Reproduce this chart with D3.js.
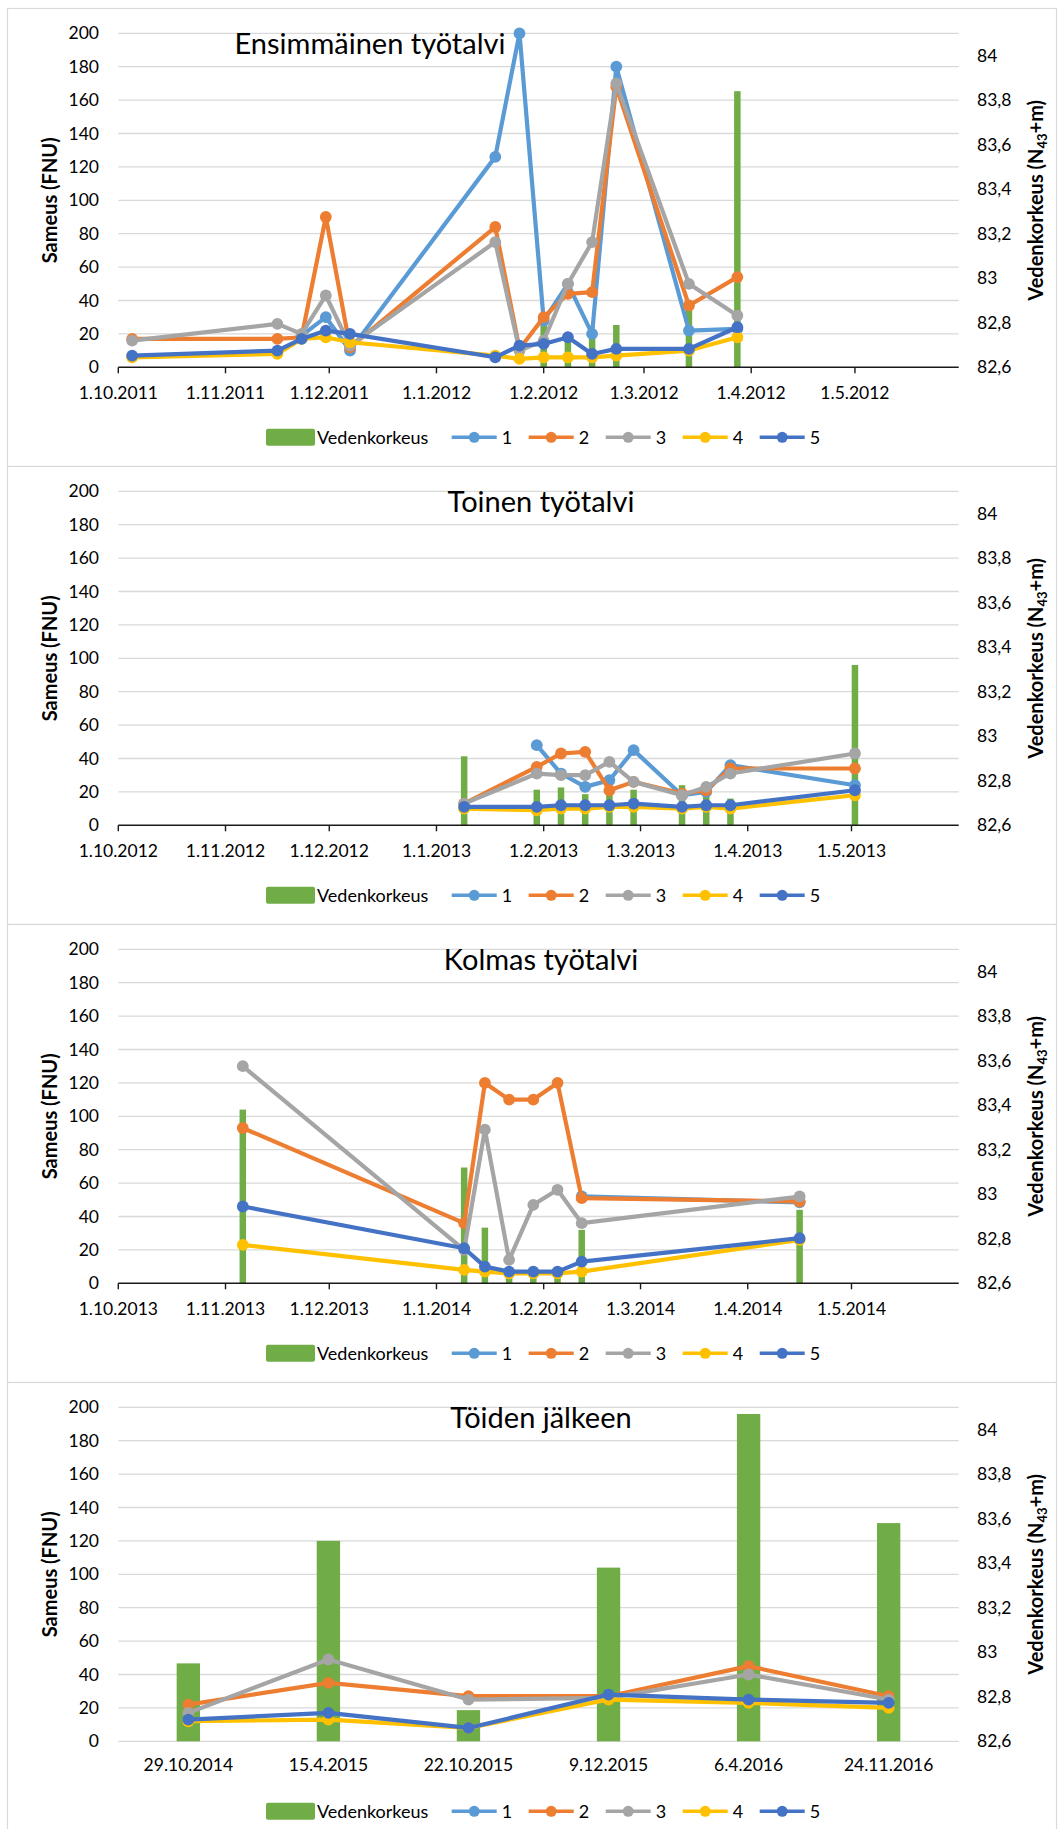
<!DOCTYPE html>
<html>
<head>
<meta charset="utf-8">
<script src="https://cdn.jsdelivr.net/npm/d3@7"></script>
<style>
  html, body { margin: 0; padding: 0; background: #ffffff; }
  svg { display: block; font-family: Lato, "Noto Sans", sans-serif; }
</style>
</head>
<body>
<svg id="chart" width="1060" height="1829"></svg>
<script>
// ---- shared series definitions ----
const seriesNames = ["1", "2", "3", "4", "5"];
const seriesColors = ["#5B9BD5", "#ED7D31", "#A5A5A5", "#FFC000", "#4472C4"];
const levelName = "Vedenkorkeus";
const levelColor = "#70AD47";
const sameusTicks = [0, 20, 40, 60, 80, 100, 120, 140, 160, 180, 200];
const levelTicks = [82.6, 82.8, 83.0, 83.2, 83.4, 83.6, 83.8, 84.0];

// ---- Ensimmäinen työtalvi (2011–2012) ----
const winter1Title = "Ensimmäinen työtalvi";
const winter1AxisTicks = ["2011-10-01", "2011-11-01", "2011-12-01", "2012-01-01", "2012-02-01", "2012-03-01", "2012-04-01", "2012-05-01"];
const winter1Dates = ["2011-10-05", "2011-11-16", "2011-11-23", "2011-11-30", "2011-12-07", "2012-01-18", "2012-01-25", "2012-02-01", "2012-02-08", "2012-02-15", "2012-02-22", "2012-03-14", "2012-03-28"];
const winter1Level = [null, null, null, null, null, null, null, 82.81, 82.75, 82.75, 82.79, 82.88, 83.84];
const winter1S1 = [null, null, 19, 30, 10, 126, 200, 28, 50, 20, 180, 22, 23];
const winter1S2 = [17, 17, 18, 90, 12, 84, 11, 30, 44, 45, 168, 37, 54];
const winter1S3 = [16, 26, 20, 43, 13, 75, 10, 16, 50, 75, 170, 50, 31];
const winter1S4 = [6, 8, 17, 18, 15, 7, 5, 6, 6, 6, 7, 10, 18];
const winter1S5 = [7, 10, 17, 22, 20, 6, 13, 14, 18, 8, 11, 11, 24];

// ---- Toinen työtalvi (2012–2013) ----
const winter2Title = "Toinen työtalvi";
const winter2AxisTicks = ["2012-10-01", "2012-11-01", "2012-12-01", "2013-01-01", "2013-02-01", "2013-03-01", "2013-04-01", "2013-05-01"];
const winter2Dates = ["2013-01-09", "2013-01-30", "2013-02-06", "2013-02-13", "2013-02-20", "2013-02-27", "2013-03-13", "2013-03-20", "2013-03-27", "2013-05-02"];
const winter2Level = [82.91, 82.76, 82.77, 82.74, 82.75, 82.76, 82.78, 82.73, 82.72, 83.32];
const winter2S1 = [null, 48, 31, 23, 27, 45, 18, 20, 36, 24];
const winter2S2 = [13, 35, 43, 44, 21, 26, 19, 21, 34, 34];
const winter2S3 = [13, 31, 30, 30, 38, 26, 18, 23, 31, 43];
const winter2S4 = [10, 9, 10, 10, 11, 11, 10, 11, 10, 18];
const winter2S5 = [11, 11, 12, 12, 12, 13, 11, 12, 12, 21];

// ---- Kolmas työtalvi (2013–2014) ----
const winter3Title = "Kolmas työtalvi";
const winter3AxisTicks = ["2013-10-01", "2013-11-01", "2013-12-01", "2014-01-01", "2014-02-01", "2014-03-01", "2014-04-01", "2014-05-01"];
const winter3Dates = ["2013-11-06", "2014-01-09", "2014-01-15", "2014-01-22", "2014-01-29", "2014-02-05", "2014-02-12", "2014-04-16"];
const winter3Level = [83.38, 83.12, 82.85, 82.64, 82.64, 82.64, 82.84, 82.93];
const winter3S1 = [null, null, null, null, null, null, 52, 48.5];
const winter3S2 = [93, 36, 120, 110, 110, 120, 51, 49];
const winter3S3 = [130, 20, 92, 14, 47, 56, 36, 52];
const winter3S4 = [23, 8, 7, 6, 6, 6, 7, 26];
const winter3S5 = [46, 21, 10, 7, 7, 7, 13, 27];

// ---- Töiden jälkeen (category axis) ----
const afterTitle = "Töiden jälkeen";
const afterDates = ["29.10.2014", "15.4.2015", "22.10.2015", "9.12.2015", "6.4.2016", "24.11.2016"];
const afterLevel = [82.95, 83.50, 82.74, 83.38, 84.07, 83.58];
const afterS1 = [null, null, null, null, null, null];
const afterS2 = [22, 35, 27, 27, 45, 27];
const afterS3 = [17, 49, 25, 26, 40, 25];
const afterS4 = [12, 13, 8, 25, 23, 20];
const afterS5 = [13, 17, 8, 28, 25, 23];

// ---- layout ----
const panelTops = [8, 466, 924, 1382];
const panelW = 1050, panelH = 458, panelX = 7;
const plotLeft = 118.3, plotRight = 958.7, plotTop = 25.3, plotBottom = 359.3;
const axisSpanDays = 243;
const lineWidth = 4.2, markerR = 5.9;

const parseDay = d3.utcParse("%Y-%m-%d");
const fmtDay = d => `${d.getUTCDate()}.${d.getUTCMonth() + 1}.${d.getUTCFullYear()}`;
const fmtLevel = v => String(+v.toFixed(1)).replace(".", ",");

const svg = d3.select("#chart");

function drawPanel(top, cfg) {
  const g = svg.append("g").attr("transform", `translate(0,${top})`);

  // frame
  g.append("rect")
    .attr("x", panelX + 0.5).attr("y", 0.5)
    .attr("width", panelW - 1).attr("height", panelH)
    .attr("fill", "#fff").attr("stroke", "#D9D9D9").attr("stroke-width", 1.2);

  const y = d3.scaleLinear().domain([0, 200]).range([plotBottom, plotTop]);
  const yR = d3.scaleLinear().domain([82.6, 84.1]).range([plotBottom, plotTop]);

  // x position of each observation
  let xPos, barW, tickData = [];
  if (cfg.categorical) {
    const xb = d3.scaleBand().domain(cfg.keys).range([plotLeft, plotRight]).paddingInner(0).paddingOuter(0);
    xPos = k => xb(k) + xb.bandwidth() / 2;
    barW = xb.bandwidth() / 6;
  } else {
    const start = parseDay(cfg.axisTicks[0]);
    const end = d3.utcDay.offset(start, axisSpanDays);
    const xt = d3.scaleUtc().domain([start, end]).range([plotLeft, plotRight]);
    xPos = k => xt(parseDay(k));
    barW = 6.5;
    tickData = cfg.axisTicks.map(t => ({ x: xt(parseDay(t)), label: fmtDay(parseDay(t)) }));
  }

  // horizontal gridlines
  g.append("g").selectAll("line").data(sameusTicks.filter(t => cfg.categorical || t > 0)).join("line")
    .attr("x1", plotLeft).attr("x2", plotRight)
    .attr("y1", d => y(d)).attr("y2", d => y(d))
    .attr("stroke", "#D9D9D9").attr("stroke-width", 1.3);

  // left axis labels
  g.append("g").selectAll("text").data(sameusTicks).join("text")
    .attr("x", 99).attr("y", d => y(d)).attr("dy", "0.35em")
    .attr("text-anchor", "end").attr("font-size", 17.5).attr("fill", "#000")
    .text(d => d);

  // right axis labels
  g.append("g").selectAll("text").data(levelTicks).join("text")
    .attr("x", 977).attr("y", d => yR(d)).attr("dy", "0.35em")
    .attr("text-anchor", "start").attr("font-size", 17.5).attr("fill", "#000")
    .text(d => fmtLevel(d));

  // water level columns
  const levels = cfg.keys.map((k, i) => ({ k, v: cfg.level[i] })).filter(d => d.v != null);
  g.append("g").selectAll("rect").data(levels).join("rect")
    .attr("x", d => xPos(d.k) - barW / 2).attr("width", barW)
    .attr("y", d => yR(d.v)).attr("height", d => plotBottom - yR(d.v))
    .attr("fill", levelColor);

  // horizontal axis
  if (cfg.categorical) {
    g.append("g").selectAll("text").data(cfg.keys).join("text")
      .attr("x", d => xPos(d)).attr("y", 383).attr("dy", "0.35em")
      .attr("text-anchor", "middle").attr("font-size", 17.5).attr("fill", "#000")
      .text(d => d);
  } else {
    g.append("line")
      .attr("x1", plotLeft).attr("x2", plotRight)
      .attr("y1", plotBottom).attr("y2", plotBottom)
      .attr("stroke", "#1a1a1a").attr("stroke-width", 1.6);
    g.append("g").selectAll("line").data(tickData).join("line")
      .attr("x1", d => d.x).attr("x2", d => d.x)
      .attr("y1", plotBottom).attr("y2", plotBottom + 6)
      .attr("stroke", "#1a1a1a").attr("stroke-width", 1.4);
    g.append("g").selectAll("text").data(tickData).join("text")
      .attr("x", d => d.x).attr("y", 385).attr("dy", "0.35em")
      .attr("text-anchor", "middle").attr("font-size", 17.5).attr("fill", "#000")
      .text(d => d.label);
  }

  // turbidity series: line then markers, in series order
  const line = d3.line().defined(d => d.v != null).x(d => xPos(d.k)).y(d => y(d.v));
  cfg.series.forEach((vals, si) => {
    const pts = cfg.keys.map((k, i) => ({ k, v: vals[i] }));
    const sg = g.append("g");
    sg.append("path").datum(pts).attr("d", line)
      .attr("fill", "none").attr("stroke", seriesColors[si])
      .attr("stroke-width", lineWidth).attr("stroke-linejoin", "round").attr("stroke-linecap", "round");
    sg.selectAll("circle").data(pts.filter(d => d.v != null)).join("circle")
      .attr("cx", d => xPos(d.k)).attr("cy", d => y(d.v)).attr("r", markerR)
      .attr("fill", seriesColors[si]);
  });

  // title
  g.append("text")
    .attr("x", cfg.titleX).attr("y", 46.3)
    .attr("text-anchor", "middle").attr("font-size", 29).attr("fill", "#000")
    .text(cfg.title);

  // axis titles
  g.append("text")
    .attr("transform", `translate(50,${(plotTop + plotBottom) / 2}) rotate(-90)`)
    .attr("text-anchor", "middle").attr("dy", "0.35em")
    .attr("font-size", 20).attr("font-weight", "bold").attr("fill", "#000")
    .text("Sameus (FNU)");
  const rt = g.append("text")
    .attr("transform", `translate(1036,${(plotTop + plotBottom) / 2}) rotate(-90)`)
    .attr("text-anchor", "middle").attr("dy", "0.35em")
    .attr("font-size", 20).attr("font-weight", "bold").attr("fill", "#000");
  rt.append("tspan").text("Vedenkorkeus (N");
  rt.append("tspan").attr("font-size", 13).attr("dy", "0.3em").text("43");
  rt.append("tspan").attr("dy", "-0.2em").text("+m)");

  // legend
  const lg = g.append("g").attr("transform", "translate(0,429.3)");
  lg.append("rect").attr("x", 266).attr("y", -8.5).attr("width", 49).attr("height", 17)
    .attr("rx", 2).attr("fill", levelColor);
  lg.append("text").attr("x", 317).attr("y", 0).attr("dy", "0.35em")
    .attr("font-size", 18).attr("fill", "#000").text(levelName);
  seriesNames.forEach((name, i) => {
    const x0 = 451.7 + i * 77;
    lg.append("line").attr("x1", x0).attr("x2", x0 + 45).attr("y1", 0).attr("y2", 0)
      .attr("stroke", seriesColors[i]).attr("stroke-width", 3.4);
    lg.append("circle").attr("cx", x0 + 22.5).attr("cy", 0).attr("r", 5.5).attr("fill", seriesColors[i]);
    lg.append("text").attr("x", x0 + 50).attr("y", 0).attr("dy", "0.35em")
      .attr("font-size", 18).attr("fill", "#000").text(name);
  });
}

drawPanel(panelTops[0], {
  title: winter1Title, titleX: 370, axisTicks: winter1AxisTicks,
  keys: winter1Dates, level: winter1Level,
  series: [winter1S1, winter1S2, winter1S3, winter1S4, winter1S5]
});
drawPanel(panelTops[1], {
  title: winter2Title, titleX: 541, axisTicks: winter2AxisTicks,
  keys: winter2Dates, level: winter2Level,
  series: [winter2S1, winter2S2, winter2S3, winter2S4, winter2S5]
});
drawPanel(panelTops[2], {
  title: winter3Title, titleX: 541, axisTicks: winter3AxisTicks,
  keys: winter3Dates, level: winter3Level,
  series: [winter3S1, winter3S2, winter3S3, winter3S4, winter3S5]
});
drawPanel(panelTops[3], {
  title: afterTitle, titleX: 541, categorical: true,
  keys: afterDates, level: afterLevel,
  series: [afterS1, afterS2, afterS3, afterS4, afterS5]
});
</script>
</body>
</html>
